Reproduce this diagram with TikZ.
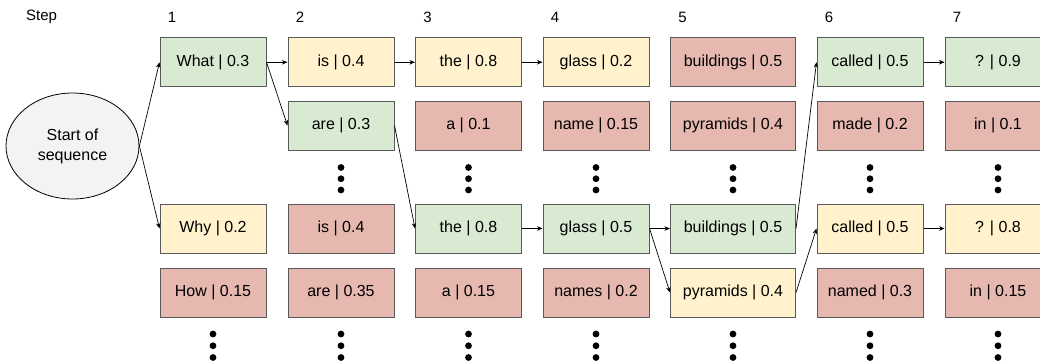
\documentclass[tikz,border=0pt]{standalone}
\usepackage{fontspec}
\setmainfont{Liberation Sans}
\usetikzlibrary{arrows.meta,shapes.geometric}
\definecolor{okgreen}{HTML}{D9EAD3}
\definecolor{midyellow}{HTML}{FFF2CC}
\definecolor{lowred}{HTML}{E6B8AF}
\definecolor{edgegray}{HTML}{595959}
\definecolor{startgray}{HTML}{F3F3F3}

\begin{document}
\begin{tikzpicture}[x=1pt,y=-1pt,
  tok/.style={draw=edgegray, line width=1pt, minimum width=106pt, minimum height=49pt,
    inner sep=0pt, font=\fontsize{16}{19}\selectfont},
  keep/.style={tok, fill=okgreen},
  maybe/.style={tok, fill=midyellow},
  drop/.style={tok, fill=lowred},
  wide/.style={minimum width=125pt},
  steplabel/.style={font=\fontsize{15}{17}\selectfont, inner sep=0pt},
  link/.style={-{Stealth[length=5.5pt,width=4.5pt]}, line width=0.7pt},
  startnode/.style={ellipse, draw=black, line width=0.8pt, fill=startgray,
    minimum width=133pt, minimum height=106pt, inner sep=0pt, align=center,
    font=\fontsize{16}{20}\selectfont}
]
\useasboundingbox (0,0) rectangle (1040,362);

% step header
\node[steplabel, anchor=west] (steptitle) at (26,17) {Step};
\node[steplabel] (s1) at (172,17) {1};
\node[steplabel] (s2) at (300,17) {2};
\node[steplabel] (s3) at (427.5,17) {3};
\node[steplabel] (s4) at (555,17) {4};
\node[steplabel] (s5) at (682.5,17) {5};
\node[steplabel] (s6) at (829,17) {6};
\node[steplabel] (s7) at (957,17) {7};

% start of sequence
\node[startnode] (start) at (72.5,146) {Start of\\sequence};

% step 1
\node[keep]  (c1r1) at (213,62.25) {What | 0.3};
\node[maybe] (c1r3) at (213,228.5) {Why | 0.2};
\node[drop]  (c1r4) at (213,292.5) {How | 0.15};

% step 2
\node[maybe] (c2r1) at (341,62.25) {is | 0.4};
\node[keep]  (c2r2) at (341,125.5) {are | 0.3};
\node[drop]  (c2r3) at (341,228.5) {is | 0.4};
\node[drop]  (c2r4) at (341,292.5) {are | 0.35};

% step 3
\node[maybe] (c3r1) at (468.5,62.25) {the | 0.8};
\node[drop]  (c3r2) at (468.5,125.5) {a | 0.1};
\node[keep]  (c3r3) at (468.5,228.5) {the | 0.8};
\node[drop]  (c3r4) at (468.5,292.5) {a | 0.15};

% step 4
\node[maybe] (c4r1) at (596,62.25) {glass | 0.2};
\node[drop]  (c4r2) at (596,125.5) {name | 0.15};
\node[keep]  (c4r3) at (596,228.5) {glass | 0.5};
\node[drop]  (c4r4) at (596,292.5) {names | 0.2};

% step 5
\node[drop, wide]  (c5r1) at (733,62.25) {buildings | 0.5};
\node[drop, wide]  (c5r2) at (733,125.5) {pyramids | 0.4};
\node[keep, wide]  (c5r3) at (733,228.5) {buildings | 0.5};
\node[maybe, wide] (c5r4) at (733,292.5) {pyramids | 0.4};

% step 6
\node[keep]  (c6r1) at (870,62.25) {called | 0.5};
\node[drop]  (c6r2) at (870,125.5) {made | 0.2};
\node[maybe] (c6r3) at (870,228.5) {called | 0.5};
\node[drop]  (c6r4) at (870,292.5) {named | 0.3};

% step 7
\node[keep]  (c7r1) at (998,62.25) {? | 0.9};
\node[drop]  (c7r2) at (998,125.5) {in | 0.1};
\node[maybe] (c7r3) at (998,228.5) {? | 0.8};
\node[drop]  (c7r4) at (998,292.5) {in | 0.15};

% vertical ellipsis marks
\foreach \cx in {341,468.5,596,733,870,998}
  \foreach \cy in {167.5,178.75,190}
    \fill (\cx,\cy) circle (3.4pt);
\foreach \cx in {213,341,468.5,596,733,870,998}
  \foreach \cy in {334,345.75,357.5}
    \fill (\cx,\cy) circle (3.4pt);

% beam connections
\draw[link] (start.east) -- (c1r1.west);
\draw[link] (start.east) -- (c1r3.west);
\draw[link] (c1r1.east) -- (c2r1.west);
\draw[link] (c1r1.east) -- (c2r2.west);
\draw[link] (c2r1.east) -- (c3r1.west);
\draw[link] (c3r1.east) -- (c4r1.west);
\draw[link] (c2r2.east) -- (c3r3.west);
\draw[link] (c3r3.east) -- (c4r3.west);
\draw[link] (c4r3.east) -- (c5r3.west);
\draw[link] (c4r3.east) -- (c5r4.west);
\draw[link] (c5r3.east) -- (c6r1.west);
\draw[link] (c5r4.east) -- (c6r3.west);
\draw[link] (c6r1.east) -- (c7r1.west);
\draw[link] (c6r3.east) -- (c7r3.west);
\end{tikzpicture}
\end{document}
